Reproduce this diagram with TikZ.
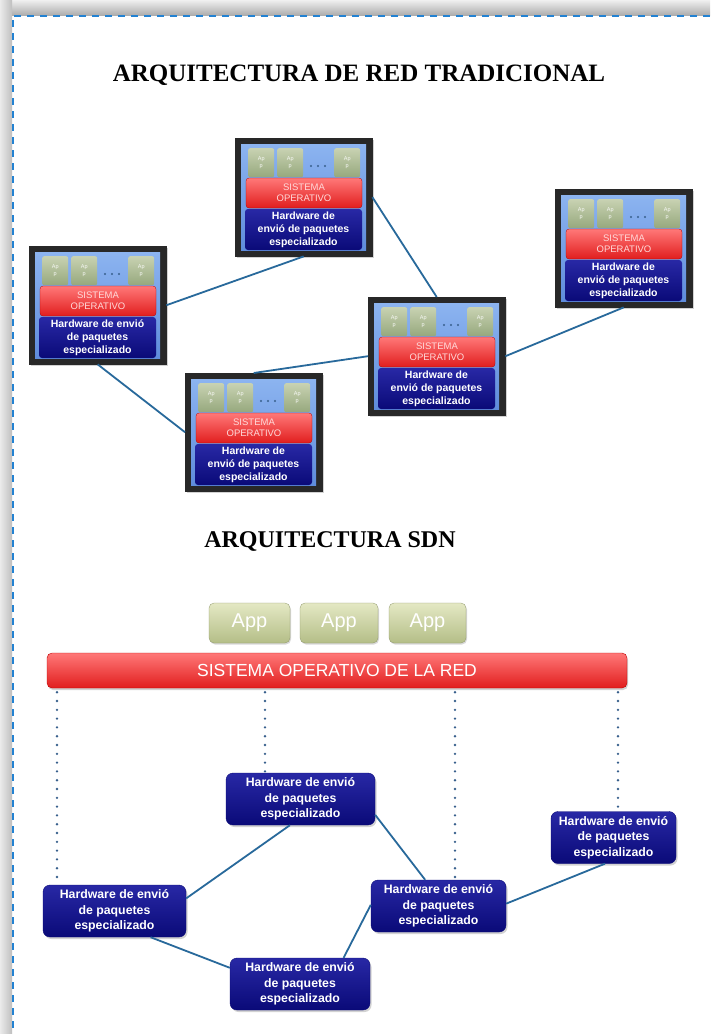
\documentclass[tikz,border=0pt]{standalone}
\usepackage{fontspec}
\setmainfont{Liberation Serif}
\newfontfamily\arial{Liberation Sans}
\usetikzlibrary{shadows,calc}
\definecolor{linkc}{RGB}{40,105,155}
\definecolor{dotc}{RGB}{55,95,140}
\definecolor{dashc}{RGB}{35,130,210}
\definecolor{navyT}{RGB}{40,40,165}
\definecolor{navyB}{RGB}{10,10,120}
\definecolor{redT}{RGB}{255,120,120}
\definecolor{redB}{RGB}{225,30,30}
\definecolor{appT}{RGB}{228,232,196}
\definecolor{appB}{RGB}{180,190,135}
\definecolor{mappT}{RGB}{200,210,178}
\definecolor{mappB}{RGB}{150,168,125}
\definecolor{frameC}{RGB}{40,40,40}
\definecolor{innerT}{RGB}{140,180,240}
\definecolor{innerB}{RGB}{95,140,220}
\tikzset{
  conn/.style={draw=linkc, line width=1.8pt},
  dotl/.style={draw=dotc, line width=2.6pt, line cap=round, dash pattern=on 0pt off 8.8pt},
  devframe/.style={fill=frameC, draw=frameC, minimum width=137pt, minimum height=118pt, inner sep=0pt,
     drop shadow={shadow xshift=1.5pt, shadow yshift=-1.5pt, opacity=0.35}},
  appmini/.style={minimum width=26pt, minimum height=29pt, inner sep=0pt, rounded corners=2pt,
     top color=mappT, bottom color=mappB, text=white!90!mappT, align=center,
     font=\arial\fontsize{5.5}{6.5}\selectfont},
  osband/.style={minimum width=116pt, minimum height=30pt, inner sep=0pt, rounded corners=3pt,
     top color=redT, bottom color=redB, draw=red!70!black, line width=0.3pt, text=white!85!red, align=center,
     font=\arial\fontsize{9.5}{11}\selectfont},
  hwband/.style={minimum width=117pt, minimum height=41pt, inner sep=0pt, rounded corners=3pt,
     top color=navyT, bottom color=navyB, text=white, align=center,
     font=\arial\bfseries\fontsize{10.5}{13}\selectfont},
  hwbox/.style={minimum height=52pt, inner sep=0pt, rounded corners=7pt,
     top color=navyT, bottom color=navyB, draw=navyB, text=white, align=center,
     font=\arial\bfseries\fontsize{12.3}{15.5}\selectfont,
     drop shadow={shadow xshift=1.5pt, shadow yshift=-2pt, opacity=0.35}},
  sdnapp/.style={minimum height=40pt, inner sep=0pt, rounded corners=5pt,
     top color=appT, bottom color=appB, draw=appB!80!black, line width=0.3pt, text=white,
     font=\arial\fontsize{20}{22}\selectfont,
     drop shadow={shadow xshift=1pt, shadow yshift=-1.5pt, opacity=0.3}},
  osbar/.style={minimum width=580pt, minimum height=35pt, inner sep=0pt, rounded corners=5pt,
     top color=redT, bottom color=redB, draw=red!75!black, line width=0.4pt, text=white,
     font=\arial\fontsize{17.5}{20}\selectfont,
     drop shadow={shadow xshift=1pt, shadow yshift=-2pt, opacity=0.35}},
  titlet/.style={font=\bfseries\fontsize{24}{28}\selectfont, inner sep=0pt}
}
\newcommand\devnode[4]{%
  \node[devframe, anchor=north west] (#1) at (#2,#3) {};
  \begin{scope}[shift={(#1.north west)}]
    \fill[top color=innerT, bottom color=innerB] (6,6) rectangle (131,112);
    \foreach \ax in {13,42,99} \node[appmini, anchor=north west] (#1-app\ax) at (\ax,10) {Ap\\p};
    \foreach \dx in {76,83,90} \fill[dotc] (\dx,28) circle (1.2pt);
    \node[osband] (#1-os) at (69,55) {SISTEMA\\OPERATIVO};
    \node[hwband] (#1-hw) at (68.5,91.5) {#4};
  \end{scope}
}
\begin{document}
\begin{tikzpicture}[x=1pt,y=-1pt]
\useasboundingbox (0,0) rectangle (710,1034);
\fill[white] (0,0) rectangle (710,1034);
% page frame shadow
\fill[top color=black!6, bottom color=black!32] (0,0) rectangle (710,15);
\fill[left color=black!8, right color=black!25] (0,0) rectangle (12,1034);
\draw[dashc, line width=2pt, dash pattern=on 7pt off 6pt] (710,15.5) -- (12.5,15.5) -- (12.5,1034);

% titles
\node[titlet, font=\bfseries\fontsize{25}{29}\selectfont] (t1) at (359,75) {ARQUITECTURA DE RED TRADICIONAL};
\node[titlet] (t2) at (330,541) {ARQUITECTURA SDN};

% traditional devices
\devnode{d1}{235}{138}{Hardware de\\envió de paquetes\\especializado}
\devnode{d2}{29}{246}{Hardware de envió\\de paquetes\\especializado}
\devnode{d3}{555}{189}{Hardware de\\envió de paquetes\\especializado}
\devnode{d4}{368}{297}{Hardware de\\envió de paquetes\\especializado}
\devnode{d5}{185}{373}{Hardware de\\envió de paquetes\\especializado}

\draw[conn] (d2.east) -- (d1.south);
\draw[conn] (d1.east) -- (d4.north);
\draw[conn] (d4.east) -- (d3.south);
\draw[conn] (d2.south) -- (d5.west);
\draw[conn] (d5.north) -- (d4.west);

% SDN
\node[sdnapp, minimum width=81pt] (a1) at (249.5,623) {App};
\node[sdnapp, minimum width=78pt] (a2) at (339,623) {App};
\node[sdnapp, minimum width=77pt] (a3) at (427.5,623) {App};
\node[osbar] (nos) at (337,670.5) {SISTEMA OPERATIVO DE LA RED};

\node[hwbox, minimum width=149pt] (h1) at (300.5,799) {Hardware de envió\\de paquetes\\especializado};
\node[hwbox, minimum width=143pt] (h2) at (114.5,911) {Hardware de envió\\de paquetes\\especializado};
\node[hwbox, minimum width=125pt] (h3) at (613.5,837.5) {Hardware de envió\\de paquetes\\especializado};
\node[hwbox, minimum width=135pt] (h4) at (438.5,906) {Hardware de envió\\de paquetes\\especializado};
\node[hwbox, minimum width=140pt] (h5) at (300,984) {Hardware de envió\\de paquetes\\especializado};

\coordinate (x1) at (57,0);
\coordinate (x2) at (265,0);
\coordinate (x3) at (455,0);
\coordinate (x4) at (618,0);
\coordinate (v1) at (nos.south -| x1);
\coordinate (v2) at (nos.south -| x2);
\coordinate (v3) at (nos.south -| x3);
\coordinate (v4) at (nos.south -| x4);
\draw[dotl] ($(v1)+(0,4)$) -- (v1 |- h2.north);
\draw[dotl] ($(v2)+(0,4)$) -- (v2 |- h1.north);
\draw[dotl] ($(v3)+(0,4)$) -- (v3 |- h4.north);
\draw[dotl] ($(v4)+(0,4)$) -- (v4 |- h3.north);

\draw[conn] (h2.10) -- (h1.248);
\draw[conn] (h1.-12) -- (h4.117);
\draw[conn] (h4.2) -- (h3.252);
\draw[conn] (h2.-36) -- (h5.167);
\draw[conn] (h5.31) -- (h4.179);
\end{tikzpicture}
\end{document}
